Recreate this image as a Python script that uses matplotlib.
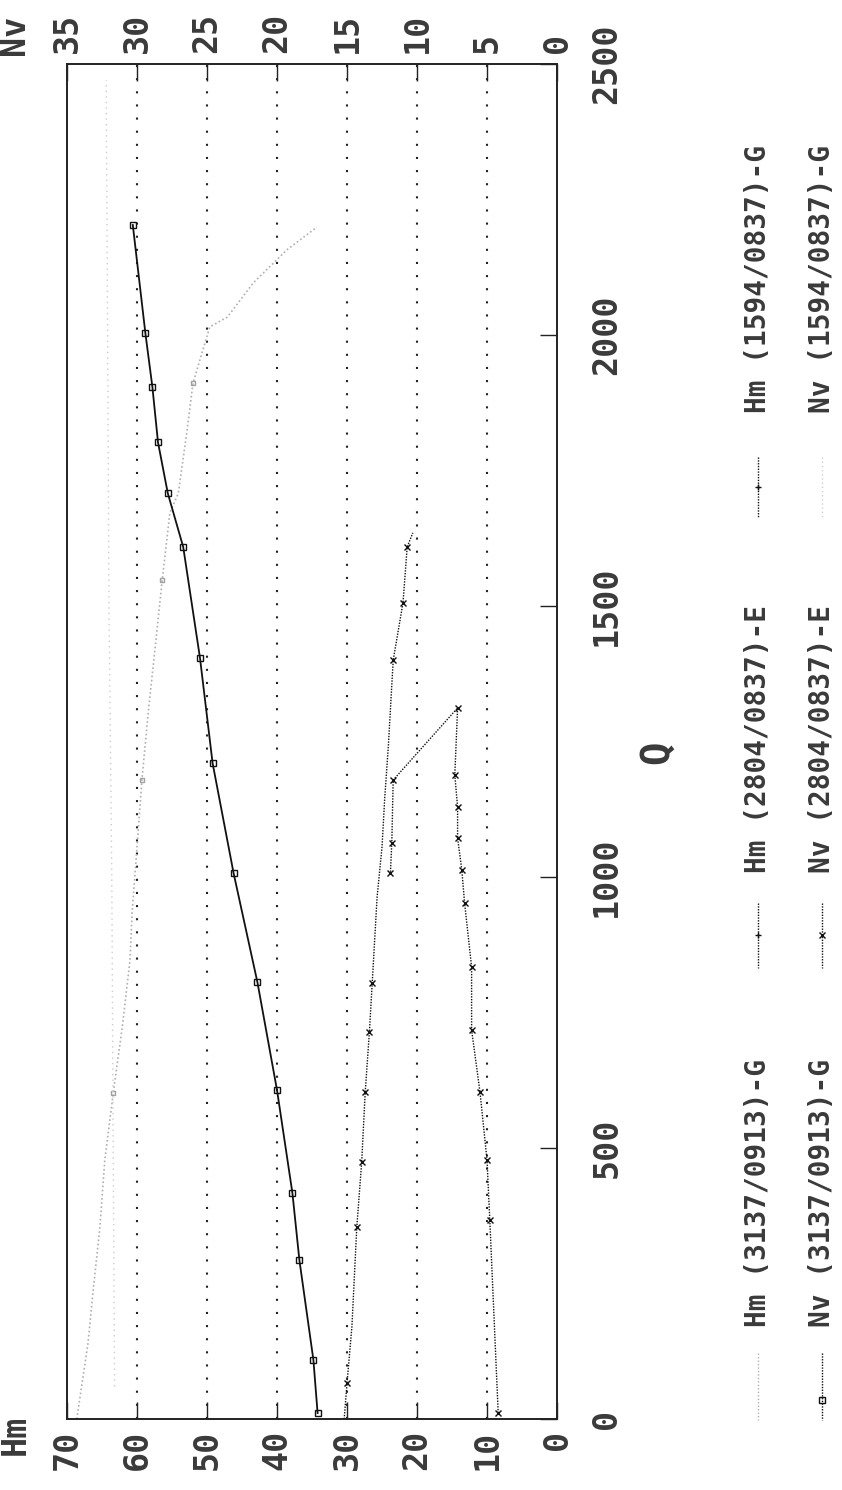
import matplotlib
matplotlib.use("Agg")
import matplotlib.pyplot as plt
import numpy as np

# ---------------- data ----------------
q_ticks = [0, 500, 1000, 1500, 2000, 2500]
hm_ticks = [70, 60, 50, 40, 30, 20, 10, 0]
nv_ticks = [35, 30, 25, 20, 15, 10, 5, 0]

# pump 1 head (light dotted)
qA = [0, 140, 232, 354, 478, 601, 723, 847, 934, 1055, 1179, 1303, 1424, 1548,
      1672, 1708, 1819, 1911, 1972, 2015, 2033, 2096, 2157, 2199]
hA = [68.6, 67.0, 66.3, 65.3, 64.6, 63.4, 62.1, 61.0, 60.7, 60.0, 59.3, 58.4,
      57.4, 56.4, 55.3, 54.1, 52.9, 52.0, 50.6, 49.6, 47.1, 43.4, 38.6, 34.3]

# pump 1 power (dark, squares)
qC = [11, 109, 293, 417, 607, 806, 1007, 1210, 1404, 1609, 1708, 1802, 1904, 2003, 2203]
nC = [17.1, 17.4, 18.4, 18.9, 20.0, 21.4, 23.1, 24.6, 25.5, 26.7, 27.8, 28.5, 28.9, 29.4, 30.3]

# pump 2 head (dark, crosses)
qD = [0, 66, 170, 354, 474, 603, 714, 804, 963, 1055, 1148, 1240, 1400, 1506, 1609, 1635]
hD = [30.4, 30.0, 29.3, 28.6, 27.9, 27.4, 26.8, 26.4, 25.7, 25.0, 24.6, 24.1, 23.4, 22.0, 21.4, 20.6]

# pump 2 power (dark, crosses)
qE = [11, 367, 478, 603, 718, 834, 952, 1013, 1072, 1129, 1188, 1312, 1179, 1063, 1007]
nE = [4.2, 4.8, 5.0, 5.5, 6.1, 6.1, 6.6, 6.8, 7.1, 7.1, 7.3, 7.1, 11.7, 11.8, 11.9]

# faint near-vertical power trace
qF = [60, 500, 1000, 1500, 2000, 2470]
nF = [31.6, 31.7, 31.8, 32.0, 32.1, 32.2]

legend_hm = ["Hm (3137/0913)-G", "Hm (2804/0837)-E", "Hm (1594/0837)-G"]
legend_nv = ["Nv (3137/0913)-G", "Nv (2804/0837)-E", "Nv (1594/0837)-G"]

# ---------------- figure ----------------
W, H = 842, 1490
fig = plt.figure(figsize=(W / 100, H / 100), dpi=100)
L, R, T, B = 67, 557, 64, 1419
ax = fig.add_axes([L / W, 1 - B / H, (R - L) / W, (B - T) / H])
ax.set_xlim(70, 0)
ax.set_ylim(0, 2500)
ax2 = ax.twiny()
ax2.set_xlim(35, 0)

ink = "#222222"
font = dict(family="DejaVu Sans Mono", weight="bold", color="#3a3a3a")

for sp in list(ax.spines.values()) + list(ax2.spines.values()):
    sp.set_color(ink)
    sp.set_linewidth(1.2)

# grid: sparse dotted vertical lines
for g in [60, 50, 40, 30, 20, 10]:
    ax.axvline(g, color=ink, lw=1.5, ls=(0, (1, 5.3)))

# ticks
ax.set_xticks(hm_ticks)
ax.set_xticklabels([str(v) for v in hm_ticks], rotation=90, fontsize=24, **font)
ax.tick_params(axis="x", direction="in", length=12, width=1.0, color=ink, pad=8)
ax2.set_xticks(nv_ticks)
ax2.set_xticklabels([str(v) for v in nv_ticks], rotation=90, fontsize=24, **font)
ax2.tick_params(axis="x", direction="in", length=12, width=1.0, color=ink, pad=8)
ax.yaxis.tick_right()
ax.set_yticks(q_ticks)
ax.set_yticklabels([str(v) for v in q_ticks], rotation=90, va="center", fontsize=24, **font)
ax.tick_params(axis="y", direction="in", length=12, width=1.0, color=ink, pad=24)

# curves
ax.plot(hA, qA, color="#b0b0b0", lw=1.2, ls=(0, (1, 1.5)), marker="s", ms=3,
        markevery=[5, 10, 13, 17], mfc="none", mec="#a0a0a0")
ax2.plot(nC, qC, color="#111111", lw=1.3, marker="s", ms=4, mfc="none", mec="#111111")
ax.plot(hD, qD, color="#111111", lw=1.0, ls=(0, (1, 1)), marker="x", ms=5, mew=1,
        markevery=[1, 3, 4, 5, 6, 7, 12, 13, 14])
ax2.plot(nE, qE, color="#111111", lw=1.0, ls=(0, (1, 1)), marker="x", ms=5, mew=1)
ax2.plot(nF, qF, color="#cccccc", lw=1.0, ls=(0, (1, 3)))

# axis titles
fig.text(15 / W, 1 - 1435 / H, "Hm", rotation=90, ha="center", va="center", fontsize=24, **font)
fig.text(15 / W, 1 - 35 / H, "Nv", rotation=90, ha="center", va="center", fontsize=24, **font)
fig.text(657 / W, 1 - 752 / H, "Q", rotation=90, ha="center", va="center", fontsize=28, **font)

# legend (rotated, reads bottom to top)
col1, col2 = 758, 822
line_spans = [(1353, 1420), (903, 968), (457, 517)]
marker_y = [1400, 935, 487]
text_start = [1327, 873, 413]
styles_hm = [
    dict(color="#b0b0b0", ls=(0, (1, 1.5)), marker=None),
    dict(color="#111111", ls=(0, (1, 1)), marker="+"),
    dict(color="#111111", ls=(0, (1, 1)), marker="+"),
]
styles_nv = [
    dict(color="#111111", ls=(0, (1, 1)), marker="s"),
    dict(color="#111111", ls=(0, (1, 1)), marker="x"),
    dict(color="#d0d0d0", ls=(0, (1, 2)), marker=None),
]
lax = fig.add_axes([0, 0, 1, 1], facecolor="none")
lax.set_xlim(0, W)
lax.set_ylim(H, 0)
lax.axis("off")
for col, labels, styles in [(col1, legend_hm, styles_hm), (col2, legend_nv, styles_nv)]:
    for st, (y0, y1), ym, yt, lab in zip(styles, line_spans, marker_y, text_start, labels):
        lax.plot([col, col], [y0, y1], color=st["color"], lw=1.0, ls=st["ls"])
        if st["marker"]:
            lax.plot([col], [ym], marker=st["marker"], color=st["color"], ms=5,
                     mfc="none", mew=1)
        lax.text(col, yt, lab, rotation=90, ha="center", va="bottom", fontsize=20, **font)

fig.savefig("out.png", dpi=100)
